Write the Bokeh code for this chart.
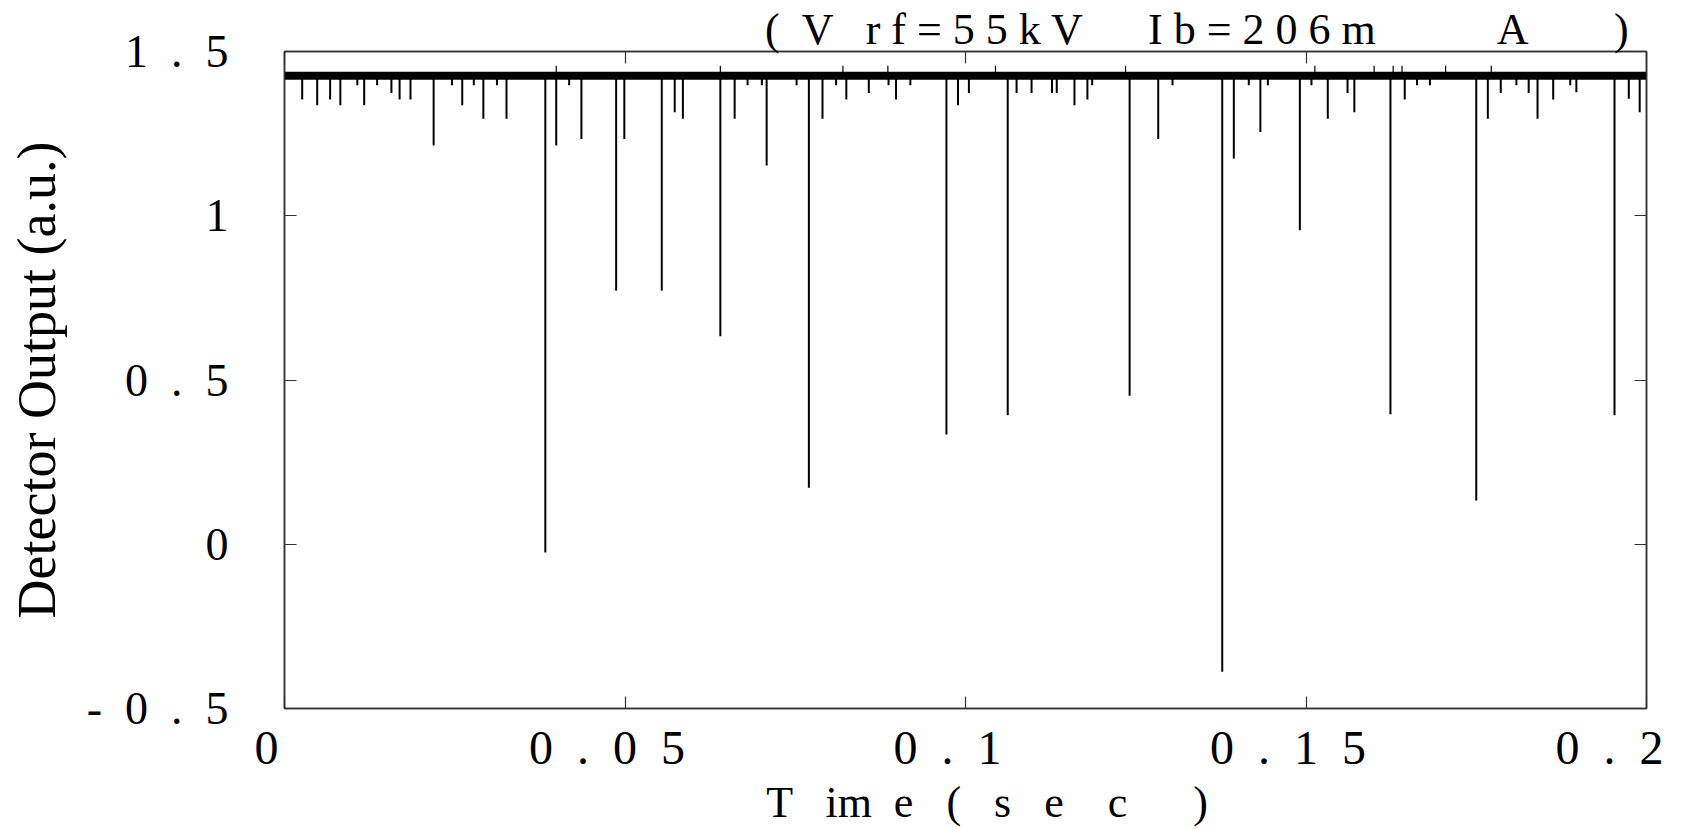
import re
from bokeh.plotting import figure
from bokeh.models import Range1d, LinearAxis, FixedTicker
from bokeh.embed import file_html
from bokeh.resources import INLINE

# ---------------- data ----------------
baseline_level = 1.426
band_lower = 1.414
band_upper = 1.438

spike_times = [0.0026, 0.0048, 0.0067, 0.0082, 0.0107, 0.0117, 0.0136, 0.0157, 0.0169, 0.0185,
               0.0219, 0.0246, 0.0261, 0.0278, 0.0292, 0.0312, 0.0326, 0.0383, 0.0399, 0.0418,
               0.0436, 0.0487, 0.0499, 0.0554, 0.0573, 0.0585, 0.0640, 0.0661, 0.0680, 0.0701,
               0.0708, 0.0752, 0.0770, 0.0790, 0.0810, 0.0825, 0.0858, 0.0887, 0.0898, 0.0919,
               0.0972, 0.0989, 0.1005, 0.1062, 0.1075, 0.1097, 0.1127, 0.1134, 0.1160, 0.1179,
               0.1186, 0.1241, 0.1283, 0.1304, 0.1377, 0.1394, 0.1416, 0.1433, 0.1444, 0.1491,
               0.1508, 0.1532, 0.1561, 0.1571, 0.1624, 0.1645, 0.1663, 0.1682, 0.1750, 0.1767,
               0.1786, 0.1809, 0.1827, 0.1840, 0.1863, 0.1888, 0.1897, 0.1953, 0.1974, 0.1990]
spike_mins = [1.354, 1.336, 1.354, 1.336, 1.397, 1.336, 1.397, 1.374, 1.354, 1.354,
              1.214, 1.397, 1.336, 1.397, 1.295, 1.397, 1.295, -0.025, 1.214, 1.397,
              1.234, 0.772, 1.234, 0.772, 1.315, 1.295, 0.633, 1.295, 1.397, 1.397,
              1.153, 1.397, 0.172, 1.295, 1.397, 1.354, 1.374, 1.397, 1.354, 1.397,
              0.334, 1.336, 1.374, 0.393, 1.374, 1.374, 1.374, 1.374, 1.336, 1.354,
              1.397, 0.452, 1.234, 1.397, -0.388, 1.174, 1.397, 1.255, 1.397, 0.956,
              1.397, 1.295, 1.374, 1.315, 0.396, 1.354, 1.397, 1.397, 0.133, 1.295,
              1.374, 1.397, 1.374, 1.295, 1.354, 1.397, 1.376, 0.393, 1.356, 1.315]

up_times = [0.0399, 0.0640, 0.0820, 0.0886, 0.1044, 0.1235, 0.1513, 0.1600, 0.1628, 0.1641,
            0.1705, 0.1772]
up_maxs = [1.457, 1.457, 1.457, 1.457, 1.457, 1.457, 1.457, 1.457, 1.457, 1.457,
           1.457, 1.457]

x_ticks = [0, 0.05, 0.1, 0.15, 0.2]
x_tick_labels = ["0", "0  .  0  5", "0  .  1", "0  .  1  5", "0  .  2"]
y_ticks = [-0.5, 0, 0.5, 1, 1.5]
y_tick_labels = ["-  0  .  5", "0", "0  .  5", "1", "1  .  5"]

title_text = "(  V   r f = 5 5 k V      I b = 2 0 6 m           A        )"
x_title = "T   im  e   (   s   e    c      )"
y_title = "Detector Output (a.u.)"

NBSP = "\u00a0"


def keep_spaces(s):
    # runs of spaces: keep one normal space, pad the rest with no-break spaces
    return re.sub(r" {2,}", lambda m: " " + NBSP * (len(m.group(0)) - 1), s)


FONT = "Liberation Serif"

p = figure(width=1699, height=829, output_backend="svg", toolbar_location=None,
           x_range=Range1d(0, 0.2), y_range=Range1d(-0.5, 1.5),
           min_border_left=284, min_border_right=53, min_border_top=51, min_border_bottom=120)
p.background_fill_color = "white"
p.border_fill_color = "white"
p.outline_line_color = "#333333"
p.outline_line_width = 1.5
p.xgrid.grid_line_color = None
p.ygrid.grid_line_color = None

# baseline noise band
p.quad(left=[x_ticks[0]], right=[x_ticks[-1]], bottom=[band_lower], top=[band_upper],
       fill_color="black", line_color=None)
# downward spikes
p.segment(x0=spike_times, y0=[baseline_level] * len(spike_times),
          x1=spike_times, y1=spike_mins, line_color="black", line_width=2)
# upward spikes
p.segment(x0=up_times, y0=[baseline_level] * len(up_times),
          x1=up_times, y1=up_maxs, line_color="black", line_width=1.2)


def style_axis(ax, ticks):
    ax.ticker = FixedTicker(ticks=ticks)
    ax.minor_tick_line_color = None
    ax.major_tick_in = 12
    ax.major_tick_out = 0
    ax.major_tick_line_color = "#333333"
    ax.major_tick_line_width = 1.2
    ax.axis_line_color = "#333333"
    ax.axis_line_width = 1.5


def blank_labels(ax, ticks):
    ax.major_label_overrides = {t: "" for t in ticks}
    ax.major_label_text_font_size = "0px"
    ax.major_label_standoff = 0


# bottom axis: tick labels shifted a little left (trailing no-break spaces)
xa = p.xaxis[0]
style_axis(xa, x_ticks)
xa.major_label_overrides = {t: keep_spaces(l) + NBSP * 3 for t, l in zip(x_ticks, x_tick_labels)}
xa.major_label_text_font = FONT
xa.major_label_text_font_size = "48px"
xa.major_label_text_color = "black"
xa.major_label_standoff = 12
xa.axis_label = NBSP * 4 + keep_spaces(x_title)
xa.axis_label_text_font = FONT
xa.axis_label_text_font_size = "44px"
xa.axis_label_text_font_style = "normal"
xa.axis_label_text_color = "black"
xa.axis_label_standoff = 1

ya = p.yaxis[0]
style_axis(ya, y_ticks)
ya.major_label_overrides = {t: keep_spaces(l) for t, l in zip(y_ticks, y_tick_labels)}
ya.major_label_text_font = FONT
ya.major_label_text_font_size = "46px"
ya.major_label_text_color = "black"
ya.major_label_standoff = 56
ya.axis_label = y_title
ya.axis_label_text_font = FONT
ya.axis_label_text_font_size = "54px"
ya.axis_label_text_font_style = "normal"
ya.axis_label_text_color = "black"
ya.axis_label_standoff = 17

top_ax = LinearAxis()
style_axis(top_ax, x_ticks)
blank_labels(top_ax, x_ticks)
p.add_layout(top_ax, "above")
right_ax = LinearAxis()
style_axis(right_ax, y_ticks)
blank_labels(right_ax, y_ticks)
p.add_layout(right_ax, "right")

p.title.text = keep_spaces(title_text)
p.title.align = "right"
p.title.offset = 13
p.title.text_font = FONT
p.title.text_font_size = "44px"
p.title.text_font_style = "normal"
p.title.text_color = "black"
p.title.standoff = -4

open("out.html", "w").write(file_html(p, INLINE))
